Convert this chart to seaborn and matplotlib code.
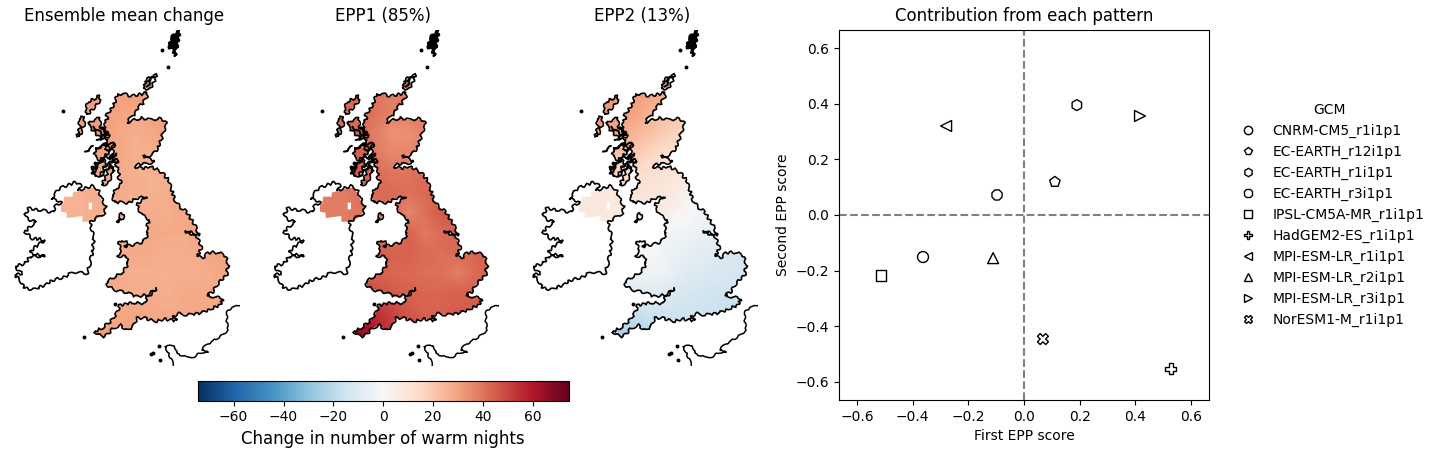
import numpy as np
import pandas as pd
import seaborn as sns
import matplotlib
matplotlib.use("Agg")
import matplotlib.pyplot as plt
from matplotlib.path import Path
from matplotlib.patches import PathPatch
from matplotlib.lines import Line2D
from matplotlib.colors import Normalize
from matplotlib.cm import ScalarMappable

sns.set_style("ticks")
plt.rcParams.update({"font.family": "DejaVu Sans", "xtick.direction": "out", "ytick.direction": "out",
                     "axes.edgecolor": "black", "xtick.color": "black", "ytick.color": "black",
                     "text.color": "black", "axes.labelcolor": "black"})

# ---------- pattern fields (change in warm nights) on a coarse grid ----------
grid_x = [200, 250, 300, 350, 400, 450, 500, 550, 600, 650, 700]
grid_y = [220, 280, 340, 400, 460, 520, 580, 640, 700, 760, 820, 880, 940]
mean_field = [
 [31,31,31,31,31,31,31,30,30,30,30],
 [31,31,31,30,29,30,32,30,30,30,30],
 [31,31,31,29,27,28,30,30,30,30,30],
 [30,30,30,29,27,27,28,28,28,28,28],
 [30,30,29,28,27,26,27,28,28,28,28],
 [26,26,27,28,27,26,27,29,28,28,28],
 [26,26,27,27,27,28,27,29,30,29,29],
 [27,27,27,27,29,28,28,28,30,30,30],
 [27,27,27,27,28,28,27,27,28,30,31],
 [28,28,28,28,27,27,26,27,27,28,30],
 [29,29,29,28,27,27,27,28,28,28,29],
 [29,29,29,29,29,29,28,28,28,29,29],
 [31,31,31,30,30,29,29,29,29,29,29]]
epp1_field = [
 [42,42,42,40,38,38,38,38,38,38,38],
 [42,42,42,40,37,38,40,40,40,40,40],
 [42,42,42,38,34,34,37,38,38,38,38],
 [44,44,44,39,36,36,38,40,40,40,40],
 [46,46,46,42,40,40,42,42,42,42,42],
 [38,38,40,42,42,41,42,44,44,44,44],
 [38,38,40,41,42,36,41,46,46,46,46],
 [40,40,40,40,40,44,39,42,44,46,46],
 [44,44,44,44,44,44,42,41,42,43,46],
 [46,46,46,44,43,42,41,41,38,42,44],
 [50,50,50,48,46,44,43,43,44,44,46],
 [58,58,58,55,50,46,44,44,45,46,46],
 [68,68,65,60,52,48,46,46,46,46,46]]
epp2_field = [
 [32,32,32,32,30,28,26,26,26,26,26],
 [32,32,32,30,25,22,20,20,20,20,20],
 [30,30,28,25,22,18,16,16,16,16,16],
 [25,24,22,20,16,13,12,12,12,12,12],
 [14,14,16,14,12,10,8,6,6,6,6],
 [8,8,8,9,9,8,4,2,0,0,0],
 [8,8,7,6,6,4,1,-2,-3,-4,-4],
 [3,3,3,2,1,-2,-3,-5,-7,-8,-8],
 [0,0,0,0,0,-4,-6,-8,-10,-12,-12],
 [-4,-4,-4,-3,-3,-5,-9,-11,-12,-13,-14],
 [-8,-8,-8,-9,-9,-10,-13,-14,-15,-15,-16],
 [-17,-17,-17,-17,-15,-15,-15,-15,-16,-18,-20],
 [-24,-24,-24,-22,-20,-18,-16,-16,-16,-18,-20]]
panel_titles = ["Ensemble mean change", "EPP1 (85%)", "EPP2 (13%)"]

# ---------- coastlines (map coordinates) ----------
great_britain = [(352,222),(375,222),(392,230),(410,225),(425,222),(441,217),(440,232),(428,250),(415,262),(408,278),(395,290),(380,308),(402,300),(425,293),(450,300),(478,296),(497,303),(498,318),(490,335),(485,355),(478,375),(468,392),(458,405),(430,410),(448,418),(465,422),(455,428),(430,432),(405,433),(402,440),(425,445),(450,440),(470,448),(490,462),(505,480),(515,510),(525,540),(540,562),(560,575),(575,600),(590,625),(597,648),(575,637),(555,633),(590,650),(605,680),(600,695),(592,710),(610,712),(625,698),(655,697),(678,708),(685,735),(680,765),(665,780),(650,795),(640,815),(620,825),(640,830),(670,835),(660,855),(630,868),(600,880),(560,885),(535,880),(520,890),(530,902),(515,900),(490,897),(465,905),(430,893),(410,895),(400,920),(380,930),(360,915),(340,925),(315,950),(295,945),(285,935),(305,925),(330,905),(350,880),(360,855),(400,848),(435,850),(440,835),(470,805),(440,825),(410,830),(385,820),(345,810),(325,800),(320,785),(345,770),(370,755),(385,730),(380,710),(350,708),(365,690),(355,670),(365,660),(380,665),(375,680),(410,672),(430,665),(445,640),(440,620),(450,600),(425,585),(415,565),(410,555),(440,530),(410,535),(385,550),(365,545),(345,550),(335,525),(350,505),(365,490),(355,470),(358,450),(345,440),(355,420),(335,430),(348,398),(330,420),(345,375),(322,395),(312,370),(325,360),(308,345),(322,345),(305,320),(318,322),(312,300),(325,300),(320,285),(335,265),(345,245)]
lewis = [(298,225),(302,240),(280,265),(262,285),(257,265),(265,245),(285,235)]
uist = [(252,290),(255,310),(245,330),(240,350),(232,348),(240,320),(236,295)]
skye = [(270,305),(300,293),(300,320),(330,345),(310,360),(290,345),(265,315)]
mull = [(285,385),(320,375),(330,395),(300,420),(285,410)]
jura = [(275,450),(295,430),(310,420),(320,430),(300,465),(285,470)]
kintyre = [(340,455),(325,490),(305,495),(320,465),(330,430)]
orkney = [(430,195),(445,175),(470,165),(460,190),(450,207),(430,205)]
shetland = [(505,70),(520,45),(540,30),(535,60),(525,110),(518,90),(505,80)]
man = [(350,605),(365,578),(372,585),(365,600)]
ireland = [(155,537),(165,520),(180,505),(205,495),(225,487),(235,490),(245,500),(235,513),(250,505),(280,497),(295,510),(305,535),(318,560),(313,580),(295,590),(270,607),(275,630),(282,655),(278,690),(270,730),(262,760),(230,757),(220,755),(195,770),(160,780),(135,795),(100,808),(75,805),(60,780),(45,765),(65,760),(45,740),(75,730),(90,710),(135,708),(90,700),(100,685),(135,660),(95,655),(75,635),(90,620),(110,605),(85,600),(75,587),(85,565),(120,570),(160,577),(165,560),(185,545)]
sea_lochs = [[(255,395),(280,380)],[(290,385),(320,372),(345,372)],[(280,445),(300,430),(320,410),(350,420)],[(310,440),(345,420)],
             [(275,460),(295,445)],[(300,470),(330,440),(345,450)],[(290,360),(325,340)],[(280,320),(310,345)],[(435,185),(465,170)],[(440,200),(455,180)]]
specks = [(485,90),(505,142),(190,273),(252,952),(345,852),(460,998),(452,1002),(478,978),(480,1020),(285,430),(275,440)]
france = [(720,857),(695,862),(682,875),(680,900),(685,930),(660,950),(635,965),(615,978),(605,990),(625,995),(600,998),(585,1010),(560,1012),(530,1000),(525,978),(495,978),(505,1000),(515,1020),(520,1038)]
n_ireland_grid = [(192,530),(218,530),(218,518),(245,510),(285,502),(300,530),(318,565),(305,590),(275,605),(247,605),(247,588),(200,594),(200,578),(183,575),(183,555),(190,550)]
lough_neagh = [(266,548),(266,568),(276,568),(276,548)]

# ---------- EPP scores ----------
gcm_names = ["CNRM-CM5_r1i1p1","EC-EARTH_r12i1p1","EC-EARTH_r1i1p1","EC-EARTH_r3i1p1","IPSL-CM5A-MR_r1i1p1",
             "HadGEM2-ES_r1i1p1","MPI-ESM-LR_r1i1p1","MPI-ESM-LR_r2i1p1","MPI-ESM-LR_r3i1p1","NorESM1-M_r1i1p1"]
epp1_score = [-0.363,0.111,0.19,-0.097,-0.514,0.528,-0.28,-0.111,0.417,0.068]
epp2_score = [-0.151,0.119,0.395,0.072,-0.216,-0.553,0.32,-0.155,0.356,-0.446]
gcm_markers = ["o","p","h","8","s","P","<","^",">","X"]

W, H = 1440, 454
fig = plt.figure(figsize=(W/100, H/100), dpi=100)
VMAX = 74.3
norm = Normalize(-VMAX, VMAX)
cmap = "RdBu_r"

def px_axes(l, t, r, b):
    return fig.add_axes([l/W, 1-b/H, (r-l)/W, (b-t)/H])

def poly_path(pts):
    return Path(list(pts)+[pts[0]], closed=True)

land = [great_britain, lewis, uist, skye, mull, jura, kintyre, orkney, shetland, man]
outlines = land + [ireland]
clip_path = Path.make_compound_path(*[poly_path(p) for p in land], poly_path(n_ireland_grid), poly_path(lough_neagh))

dx, dy = grid_x[1]-grid_x[0], grid_y[1]-grid_y[0]
extent = (grid_x[0]-dx/2, grid_x[-1]+dx/2, grid_y[-1]+dy/2, grid_y[0]-dy/2)
SKETCH = (1.3, 9, 3)

for i, (field, title) in enumerate(zip([mean_field, epp1_field, epp2_field], panel_titles)):
    left = 8 + 259*i
    ax = px_axes(left, 30, left+232, 366)
    im = ax.imshow(np.array(field, float), extent=extent, cmap=cmap, norm=norm, interpolation="bilinear", aspect="equal", zorder=1)
    patch = PathPatch(clip_path, fc="none", ec="none", transform=ax.transData)
    ax.add_patch(patch)
    im.set_clip_path(patch)
    for p in outlines:
        pp = PathPatch(poly_path(p), fc="black" if p is shetland else "none", ec="black", lw=1.2, zorder=2)
        pp.set_sketch_params(*SKETCH)
        ax.add_patch(pp)
    for seg in sea_lochs:
        xs, ys = zip(*seg)
        ln, = ax.plot(xs, ys, color="black", lw=1.5, zorder=2)
        ln.set_sketch_params(*SKETCH)
    xs, ys = zip(*france)
    ln, = ax.plot(xs, ys, color="black", lw=1.1, zorder=2)
    ln.set_sketch_params(0.8, 12, 3)
    xs, ys = zip(*specks)
    ax.plot(xs, ys, ls="none", marker="o", ms=1.8, color="black", zorder=2)
    ax.set_xlim(24, 720)
    ax.set_ylim(1038, 30)
    ax.axis("off")
    ax.set_title(title, fontsize=12, pad=6.5)

cax = px_axes(198, 381, 568.5, 400.5)
cb = fig.colorbar(ScalarMappable(norm=norm, cmap=cmap), cax=cax, orientation="horizontal")
cb.set_ticks([-60,-40,-20,0,20,40,60])
cb.set_label("Change in number of warm nights", fontsize=12)
cax.tick_params(labelsize=10, length=3.5)

ax = px_axes(839, 30, 1209, 400)
df = pd.DataFrame({"First": epp1_score, "Second": epp2_score, "GCM": gcm_names})
sns.scatterplot(data=df, x="First", y="Second", style="GCM", style_order=gcm_names,
                markers=dict(zip(gcm_names, gcm_markers)), s=62, color="white", edgecolor="black",
                linewidth=1.0, ax=ax, legend=False, zorder=3)
ax.axhline(0, color="gray", ls="--", lw=1.5, zorder=1)
ax.axvline(0, color="gray", ls="--", lw=1.5, zorder=1)
ax.set_xlim(-0.665, 0.665)
ax.set_ylim(-0.665, 0.665)
ax.set_xticks(np.arange(-0.6, 0.61, 0.2))
ax.set_yticks(np.arange(-0.6, 0.61, 0.2))
ax.tick_params(labelsize=10, length=3.5, bottom=True, left=True)
ax.set_xlabel("First EPP score", fontsize=10)
ax.set_ylabel("Second EPP score", fontsize=10)
ax.set_title("Contribution from each pattern", fontsize=12, pad=6.5)
for s in ax.spines.values():
    s.set_visible(True); s.set_linewidth(0.8)

handles = [Line2D([], [], ls="none", marker=m, mfc="white", mec="black", mew=1.0, ms=6, label=n)
           for m, n in zip(gcm_markers, gcm_names)]
ax.legend(handles=handles, title="GCM", frameon=False, loc="center left", fontsize=10, title_fontsize=10,
          bbox_to_anchor=(1.033, 0.5), labelspacing=0.50, handletextpad=0.8)

fig.savefig("out.png", dpi=100, facecolor="white")
